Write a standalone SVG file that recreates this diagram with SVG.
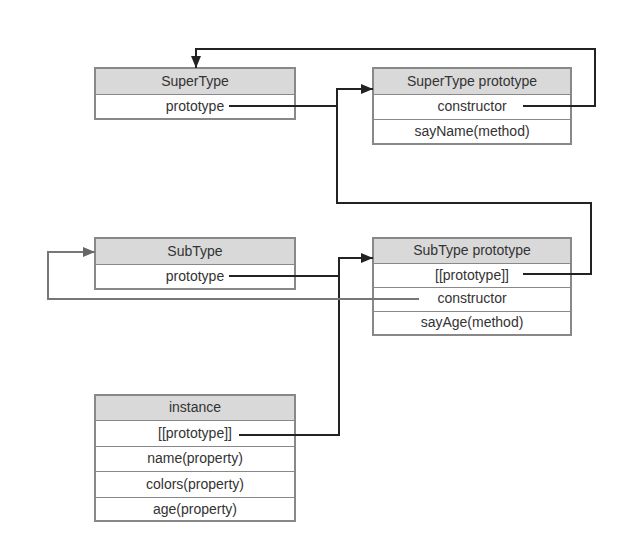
<svg xmlns="http://www.w3.org/2000/svg" width="626" height="554" viewBox="0 0 626 554">
<defs>
<style>
.box{fill:#fff;stroke:#888;stroke-width:2}
.hd{fill:#d9d9d9}
.sep{stroke:#888;stroke-width:1}
text{font-family:"Liberation Sans",Arial,sans-serif;font-size:14px;fill:#333;text-anchor:middle}
.c{fill:none;stroke:#222;stroke-width:2}
.g{fill:none;stroke:#777;stroke-width:2}
</style>
<marker id="a" viewBox="0 0 12 10" refX="12" refY="5" markerWidth="12" markerHeight="10" markerUnits="userSpaceOnUse" orient="auto"><path d="M0,0L12,5L0,10z" fill="#222"/></marker>
<marker id="ag" viewBox="0 0 12 10" refX="12" refY="5" markerWidth="12" markerHeight="10" markerUnits="userSpaceOnUse" orient="auto"><path d="M0,0L12,5L0,10z" fill="#666"/></marker>
</defs>
<rect width="626" height="554" fill="#fff"/>
<g id="supertype">
<rect class="box" x="95" y="68" width="200" height="51"/>
<rect class="hd" x="96" y="69" width="198" height="25"/>
<line class="sep" x1="95" y1="94.5" x2="295" y2="94.5"/>
<text x="195" y="86">SuperType</text>
<text x="195" y="111">prototype</text>
</g>
<g id="supertype-prototype">
<rect class="box" x="373" y="68" width="198" height="76"/>
<rect class="hd" x="374" y="69" width="196" height="25"/>
<line class="sep" x1="373" y1="94.5" x2="571" y2="94.5"/>
<line class="sep" x1="373" y1="119.5" x2="571" y2="119.5"/>
<text x="472" y="86">SuperType prototype</text>
<text x="472" y="111">constructor</text>
<text x="472" y="136">sayName(method)</text>
</g>
<g id="subtype">
<rect class="box" x="95" y="238" width="200" height="51"/>
<rect class="hd" x="96" y="239" width="198" height="25"/>
<line class="sep" x1="95" y1="264.5" x2="295" y2="264.5"/>
<text x="195" y="256">SubType</text>
<text x="195" y="281">prototype</text>
</g>
<g id="subtype-prototype">
<rect class="box" x="373" y="238" width="198" height="97"/>
<rect class="hd" x="374" y="239" width="196" height="24"/>
<line class="sep" x1="373" y1="263.5" x2="571" y2="263.5"/>
<line class="sep" x1="373" y1="287.5" x2="571" y2="287.5"/>
<line class="sep" x1="373" y1="311.5" x2="571" y2="311.5"/>
<text x="472" y="255">SubType prototype</text>
<text x="472" y="280">[[prototype]]</text>
<text x="472" y="303">constructor</text>
<text x="472" y="327">sayAge(method)</text>
</g>
<g id="instance">
<rect class="box" x="95" y="395" width="200" height="126"/>
<rect class="hd" x="96" y="396" width="198" height="24"/>
<line class="sep" x1="95" y1="420.5" x2="295" y2="420.5"/>
<line class="sep" x1="95" y1="446.5" x2="295" y2="446.5"/>
<line class="sep" x1="95" y1="471.5" x2="295" y2="471.5"/>
<line class="sep" x1="95" y1="497.5" x2="295" y2="497.5"/>
<text x="195" y="412">instance</text>
<text x="195" y="438">[[prototype]]</text>
<text x="195" y="463">name(property)</text>
<text x="195" y="489">colors(property)</text>
<text x="195" y="514">age(property)</text>
</g>
<g id="connectors">
<polyline class="c" points="229,106 337,106 337,89 373,89" marker-end="url(#a)"/>
<polyline class="c" points="523,274 591,274 591,203 337,203 337,89"/>
<polyline class="c" points="523,106 595,106 595,49 196,49 196,68" marker-end="url(#a)"/>
<polyline class="c" points="229,276 339,276 339,258 373,258" marker-end="url(#a)"/>
<polyline class="c" points="239,435 339,435 339,258"/>
<polyline class="g" points="419,299 48,299 48,252 95,252" marker-end="url(#ag)"/>
</g>
</svg>
